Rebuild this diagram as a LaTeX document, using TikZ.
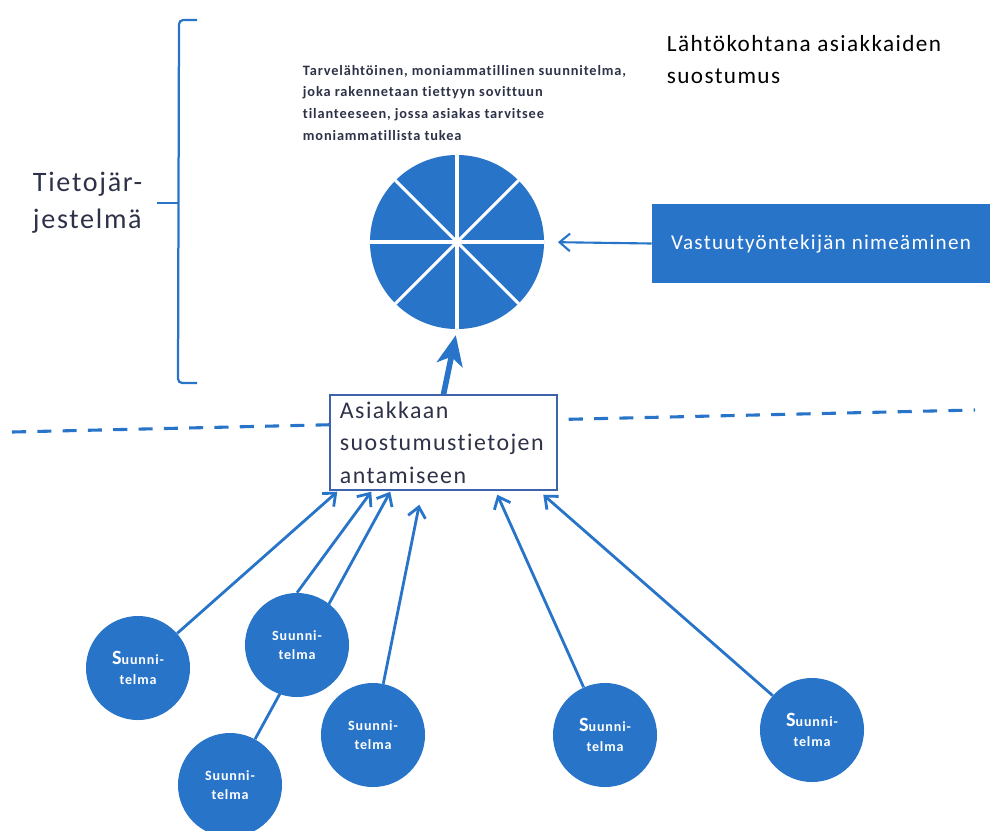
\documentclass[tikz,border=0pt]{standalone}
\usepackage{fontspec}
\setmainfont{Carlito}[LetterSpace=6,Ligatures=NoCommon]
\usetikzlibrary{calc}
\usetikzlibrary{shapes,arrows,arrows.meta}
\usetikzlibrary{positioning}
\definecolor{planblue}{RGB}{40,116,200}
\definecolor{frameblue}{RGB}{62,98,172}
\definecolor{inkgray}{RGB}{46,50,72}
\tikzset{
    plan/.style={
           circle,
           fill=planblue,
           minimum size=2.6cm,
           inner sep=0pt,
           text=white,
           font=\bfseries\fontsize{10}{14}\selectfont,
           align=center,
           },
    consent/.style={
           rectangle,
           draw=frameblue, line width=1pt,
           fill=white,
           minimum height=2.375cm,
           inner xsep=0.25cm,
           text width=5.175cm,
           align=left,
           text=inkgray,
           font=\fontsize{17}{23}\selectfont,
           },
    link/.style={draw=planblue, line width=2pt},
    barb/.style={-{Straight Barb[length=2.6mm,width=4.4mm]}},
}
\begin{document}
\begin{tikzpicture}[x=0.025cm,y=-0.025cm]
   \useasboundingbox (0,0) rectangle (990,830);
   % bracket and its label
   \draw[planblue, line width=1.6pt, rounded corners=3pt]
        (197,20) -- (179,20) -- (178,383) -- (197,383);
   \draw[planblue, line width=2pt] (178,203) -- (157,203);
   \node[anchor=west, align=left, text=inkgray, font=\fontsize{20}{26}\selectfont]
        (system) at (28,203) {Tietojär-\\jestelmä};
   % texts at the top
   \node[anchor=north west, align=left, text=inkgray,
         font=\bfseries\fontsize{10.2}{15.5}\selectfont] (desc) at (298,60)
        {Tarvelähtöinen, moniammatillinen suunnitelma,\\joka rakennetaan tiettyyn sovittuun\\tilanteeseen, jossa asiakas tarvitsee\\moniammatillista tukea};
   \node[anchor=north west, align=left, font=\fontsize{16.5}{23}\selectfont]
        (goal) at (662,30) {Lähtökohtana asiakkaiden\\suostumus};
   % pie
   \node[circle, fill=planblue, minimum size=4.35cm] (pie) at (457,242) {};
   \foreach \a in {0,45,...,315}
       \draw[white, line width=2.2pt] (pie.center) -- (pie.\a);
   \node[fill=planblue, minimum width=8.45cm, minimum height=1.98cm, text=white,
         font=\fontsize{15}{20}\selectfont] (duty) at (821,243.5) {Vastuutyöntekijän nimeäminen};
   \draw[link, line width=1.5pt, barb, shorten >=3.4mm] (duty.west) -- (pie.east);
   % dashed border
   \coordinate (dleft) at (12,432);
   \coordinate (dright) at (975,410);
   \draw[planblue, line width=2.2pt, dash pattern=on 10pt off 8pt] (dleft) -- (dright);
   \node[consent] (ask) at (443.5,442.5) {Asiakkaan\\suostumustietojen\\antamiseen};
   \draw[planblue, line width=4pt, -{Stealth[length=7.5mm,width=6.5mm,inset=2mm]}, shorten >=1.5mm]
        (ask.north) -- (pie.south);
   % plans
   \node[plan] (p3) at (230,785) {Suunni-\\telma};
   \draw[link, barb] (p3) -- ($(ask.south west)+(61,1)$);
   \node[plan] (p1) at (138,668) {{\Large S}uunni-\\telma};
   \node[plan] (p2) at (297,645) {Suunni-\\telma};
   \node[plan] (p4) at (373,735) {Suunni-\\telma};
   \node[plan] (p5) at (605,735) {{\Large S}uunni-\\telma};
   \node[plan] (p6) at (812,730) {{\Large S}uunni-\\telma};
   \path[link, barb]
    (p1) edge ($(ask.south west)+(8,1)$)
    (p2.north) edge ($(ask.south west)+(42,1)$)
    (p4) edge ($(ask.south west)+(90,14)$)
    (p5) edge ($(ask.south west)+(168,4)$)
    (p6) edge ($(ask.south west)+(214,4)$);
\end{tikzpicture}
\end{document}
